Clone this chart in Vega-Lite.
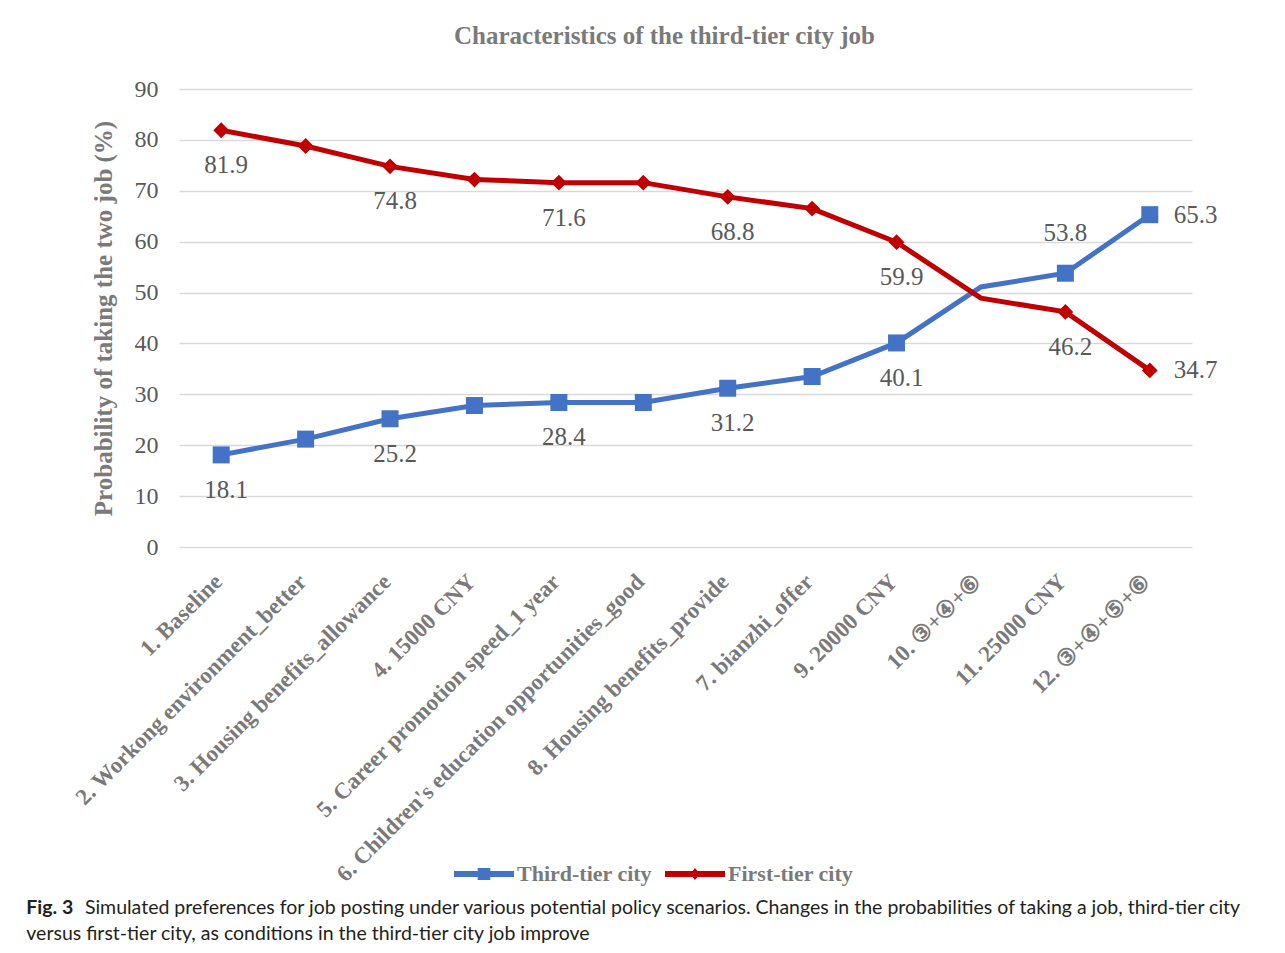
{
  "$schema": "https://vega.github.io/schema/vega-lite/v6.json",
  "background": "white",
  "padding": {"left": 26, "top": 24, "right": 5, "bottom": 5},
  "config": {
    "font": "Liberation Serif",
    "view": {"stroke": null}
  },
  "title": {
    "text": "Fig. 3",
    "subtitle": [
      "\u200b\u2003\u2003\u2003\u2002 Simulated preferences for job posting under various potential policy scenarios. Changes in the probabilities of taking a job, third-tier city",
      "versus first-tier city, as conditions in the third-tier city job improve"
    ],
    "orient": "bottom",
    "anchor": "start",
    "frame": "bounds",
    "font": "Lato",
    "fontSize": 19.5,
    "fontWeight": "bold",
    "color": "#231f20",
    "subtitleFont": "Lato",
    "subtitleFontSize": 19.5,
    "subtitleFontWeight": "normal",
    "subtitleColor": "#231f20",
    "subtitleLineHeight": 26,
    "subtitlePadding": -19.5,
    "offset": 13,
    "dx": -45
  },
  "vconcat": [
    {
      "width": 1013,
      "height": 458,
      "title": {
        "text": "Characteristics of the third-tier city job",
        "font": "Liberation Serif",
        "fontSize": 25,
        "fontWeight": "bold",
        "color": "#7a7a7a",
        "anchor": "middle",
        "dx": -21,
        "offset": 28
      },
      "data": {
        "values": [
          {"scenario": "1. Baseline", "order": 1, "city": "Third-tier city", "p": 18.1},
          {"scenario": "2. Workong environment_better", "order": 2, "city": "Third-tier city", "p": 21.2},
          {"scenario": "3. Housing benefits_allowance", "order": 3, "city": "Third-tier city", "p": 25.2},
          {"scenario": "4. 15000 CNY", "order": 4, "city": "Third-tier city", "p": 27.8},
          {"scenario": "5. Career promotion speed_1 year", "order": 5, "city": "Third-tier city", "p": 28.4},
          {"scenario": "6. Children's education opportunities_good", "order": 6, "city": "Third-tier city", "p": 28.4},
          {"scenario": "8. Housing benefits_provide", "order": 7, "city": "Third-tier city", "p": 31.2},
          {"scenario": "7. bianzhi_offer", "order": 8, "city": "Third-tier city", "p": 33.5},
          {"scenario": "9. 20000 CNY", "order": 9, "city": "Third-tier city", "p": 40.1},
          {"scenario": "10. ③+④+⑥", "order": 10, "city": "Third-tier city", "p": 51.1},
          {"scenario": "11. 25000 CNY", "order": 11, "city": "Third-tier city", "p": 53.8},
          {"scenario": "12. ③+④+⑤+⑥", "order": 12, "city": "Third-tier city", "p": 65.3},
          {"scenario": "1. Baseline", "order": 1, "city": "First-tier city", "p": 81.9},
          {"scenario": "2. Workong environment_better", "order": 2, "city": "First-tier city", "p": 78.8},
          {"scenario": "3. Housing benefits_allowance", "order": 3, "city": "First-tier city", "p": 74.8},
          {"scenario": "4. 15000 CNY", "order": 4, "city": "First-tier city", "p": 72.2},
          {"scenario": "5. Career promotion speed_1 year", "order": 5, "city": "First-tier city", "p": 71.6},
          {"scenario": "6. Children's education opportunities_good", "order": 6, "city": "First-tier city", "p": 71.6},
          {"scenario": "8. Housing benefits_provide", "order": 7, "city": "First-tier city", "p": 68.8},
          {"scenario": "7. bianzhi_offer", "order": 8, "city": "First-tier city", "p": 66.5},
          {"scenario": "9. 20000 CNY", "order": 9, "city": "First-tier city", "p": 59.9},
          {"scenario": "10. ③+④+⑥", "order": 10, "city": "First-tier city", "p": 48.9},
          {"scenario": "11. 25000 CNY", "order": 11, "city": "First-tier city", "p": 46.2},
          {"scenario": "12. ③+④+⑤+⑥", "order": 12, "city": "First-tier city", "p": 34.7}
        ]
      },
      "encoding": {
        "x": {
          "field": "scenario",
          "type": "ordinal",
          "sort": null,
          "axis": {
            "title": null,
            "labelAngle": -45,
            "labelFont": "Liberation Serif",
            "labelFontSize": 23,
            "labelFontWeight": "bold",
            "labelColor": "#7a7a7a",
            "labelPadding": 23,
            "labelOffset": -11,
            "labelLimit": 500,
            "ticks": false,
            "domain": false,
            "grid": false
          }
        },
        "y": {
          "field": "p",
          "type": "quantitative",
          "scale": {"domain": [0, 90]},
          "axis": {
            "title": "Probability of taking the two job (%)",
            "titleFont": "Liberation Serif",
            "titleFontSize": 25,
            "titleFontWeight": "bold",
            "titleColor": "#7a7a7a",
            "titlePadding": 18,
            "labelFont": "Liberation Serif",
            "labelFontSize": 24,
            "labelColor": "#595959",
            "labelPadding": 21,
            "values": [0, 10, 20, 30, 40, 50, 60, 70, 80, 90],
            "ticks": false,
            "domain": false,
            "grid": true,
            "gridColor": "#d9d9d9",
            "gridWidth": 1.5
          }
        },
        "color": {
          "field": "city",
          "type": "nominal",
          "sort": ["Third-tier city", "First-tier city"],
          "scale": {
            "domain": ["Third-tier city", "First-tier city"],
            "range": ["#4472C4", "#C00000"]
          },
          "legend": {
            "title": null,
            "orient": "none",
            "legendX": 275,
            "legendY": 755,
            "direction": "horizontal",
            "labelFont": "Liberation Serif",
            "labelFontSize": 22,
            "labelFontWeight": "bold",
            "labelColor": "#7a7a7a",
            "labelLimit": 400,
            "labelOffset": 3,
            "columnPadding": 12,
            "symbolSize": 3600,
            "symbolStrokeWidth": 0,
            "encode": {
              "symbols": {
                "update": {
                  "shape": {"signal": "datum.label === 'Third-tier city' ? 'M-1,-0.1H1V0.1H-1Z M-0.21,-0.2H0.21V0.2H-0.21Z' : 'M-1,-0.1H1V0.1H-1Z M0,-0.2L0.16,0L0,0.2L-0.16,0Z'"},
                  "fill": {"signal": "datum.label === 'Third-tier city' ? '#4472C4' : '#C00000'"},
                  "stroke": {"value": null},
                  "opacity": {"value": 1}
                }
              }
            }
          }
        }
      },
      "layer": [
        {"mark": {"type": "line", "strokeWidth": 5}},
        {
          "transform": [{"filter": "datum.city == 'Third-tier city' && datum.order != 10"}],
          "mark": {"type": "point", "shape": "square", "size": 289, "filled": true, "opacity": 1}
        },
        {
          "transform": [{"filter": "datum.city == 'First-tier city' && datum.order != 10"}],
          "mark": {"type": "point", "shape": "diamond", "size": 250, "filled": true, "opacity": 1}
        },
        {
          "transform": [{"filter": "datum.order < 12 && datum.order % 2 == 1 && !(datum.city == 'Third-tier city' && datum.order == 11)"}],
          "mark": {"type": "text", "font": "Liberation Serif", "fontSize": 25, "dx": 5, "dy": 35},
          "encoding": {"text": {"field": "p", "format": ".1f"}, "color": {"value": "#595959"}}
        },
        {
          "transform": [{"filter": "datum.city == 'Third-tier city' && datum.order == 11"}],
          "mark": {"type": "text", "font": "Liberation Serif", "fontSize": 25, "dy": -40},
          "encoding": {"text": {"field": "p", "format": ".1f"}, "color": {"value": "#595959"}}
        },
        {
          "transform": [{"filter": "datum.order == 12"}],
          "mark": {"type": "text", "font": "Liberation Serif", "fontSize": 25, "align": "left", "dx": 24},
          "encoding": {"text": {"field": "p", "format": ".1f"}, "color": {"value": "#595959"}}
        }
      ]
    }
  ]
}
